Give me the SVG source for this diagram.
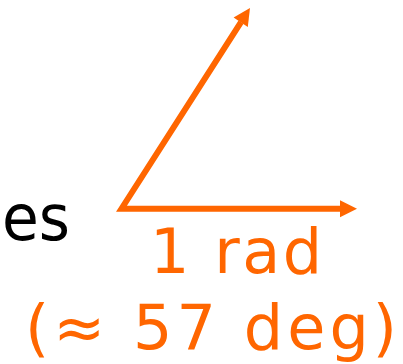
<svg xmlns="http://www.w3.org/2000/svg" width="403" height="364" viewBox="0 0 403 364">
<style>
.o{fill:#FF6600;font-family:"DejaVu Sans",sans-serif;font-size:62px}
.k{fill:#000;font-family:"DejaVu Sans",sans-serif;font-size:64px}
.ln{fill:none;stroke:#FF6600;stroke-width:6;stroke-linejoin:miter;stroke-miterlimit:10}
.hd{fill:#FF6600}
</style>
<rect width="403" height="364" fill="#fff"/>
<g id="label-es"><text class="k" x="2" y="240" textLength="68" lengthAdjust="spacingAndGlyphs">es</text></g>
<g id="connectors">
<path class="ln" d="M241,22.2 L121.5,208.7 L340,208.7"/>
<polygon class="hd" points="250,8 233.6,17.5 247.8,26.9"/>
<polygon class="hd" points="357,208.7 340,200.2 340,217.2"/>
</g>
<g id="label-rad"><text class="o" x="150" y="273" textLength="172" lengthAdjust="spacing">1 rad</text></g>
<g id="label-deg"><text class="o" x="25" y="349" textLength="372" lengthAdjust="spacing">(≈ 57 deg)</text></g>
</svg>
